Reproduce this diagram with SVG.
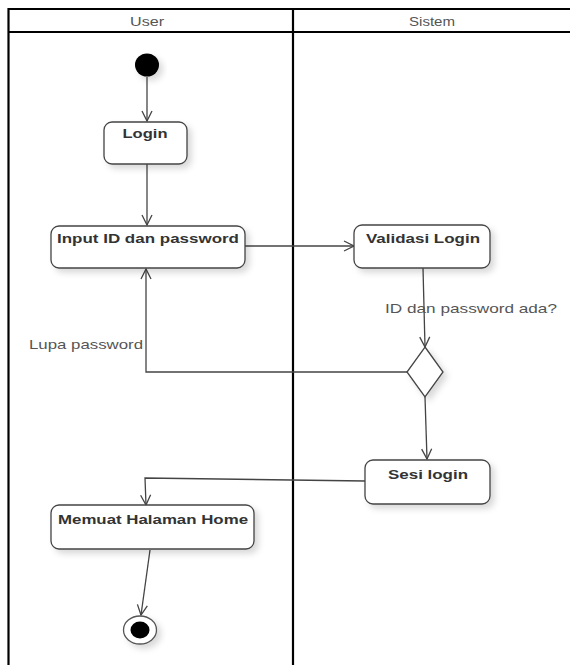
<svg xmlns="http://www.w3.org/2000/svg" width="570" height="665" viewBox="0 0 570 665">
  <style>
    .lane { stroke: #000; stroke-width: 2.2; fill: none; }
    .lane-title { font-family: "Liberation Sans", Arial, sans-serif; font-size: 13px; fill: #555; text-anchor: middle; }
    .action { fill: #fff; stroke: #444; stroke-width: 1.3; filter: url(#shadow); }
    .action-label { font-family: "Liberation Sans", Arial, sans-serif; font-size: 13.5px; font-weight: bold; fill: #333; text-anchor: middle; }
    .guard { font-family: "Liberation Sans", Arial, sans-serif; font-size: 13.5px; fill: #555; }
    .flow { stroke: #444; stroke-width: 1.3; fill: none; marker-end: url(#open-arrow); }
  </style>
  <defs>
    <marker id="open-arrow" viewBox="0 0 12 12" refX="11" refY="6" markerWidth="12" markerHeight="12" markerUnits="userSpaceOnUse" orient="auto">
      <path d="M1,1 L11,6 L1,11" fill="none" stroke="#444" stroke-width="1.3"/>
    </marker>
    <filter id="shadow" x="-20%" y="-20%" width="150%" height="160%">
      <feDropShadow dx="4" dy="4" stdDeviation="3" flood-color="#000" flood-opacity="0.15"/>
    </filter>
  </defs>

  <rect x="0" y="0" width="570" height="665" fill="#fff"/>

  <!-- swimlanes -->
  <g id="swimlanes">
    <line class="lane" x1="8" y1="9" x2="570" y2="9"/>
    <line class="lane" x1="8" y1="32" x2="570" y2="32"/>
    <line class="lane" x1="8.5" y1="8" x2="8.5" y2="665"/>
    <line class="lane" x1="293" y1="8" x2="293" y2="665"/>
    <text class="lane-title" x="147" y="26" textLength="34" lengthAdjust="spacingAndGlyphs">User</text>
    <text class="lane-title" x="432" y="26" textLength="46" lengthAdjust="spacingAndGlyphs">Sistem</text>
  </g>

  <!-- control flows -->
  <g id="connectors">
    <path class="flow" d="M147,77 L147,121"/>
    <path class="flow" d="M147,164 L147,225"/>
    <path class="flow" d="M245,246 L354,246"/>
    <path class="flow" d="M423,268 L425,347"/>
    <path class="flow" d="M407,372 L146,372 L146,269"/>
    <path class="flow" d="M425,397 L427,459"/>
    <path class="flow" d="M365,481 L145,478 L146,505"/>
    <path class="flow" d="M150,550 L141,615"/>
    <text class="guard" x="385" y="313" textLength="172" lengthAdjust="spacingAndGlyphs">ID dan password ada?</text>
    <text class="guard" x="29" y="349" textLength="114" lengthAdjust="spacingAndGlyphs">Lupa password</text>
  </g>

  <g id="start">
    <ellipse cx="147" cy="65" rx="12" ry="11.5" fill="#000" filter="url(#shadow)"/>
  </g>

  <g id="login">
    <rect class="action" x="104" y="122" width="83" height="42" rx="8"/>
    <text class="action-label" x="145" y="138" textLength="45" lengthAdjust="spacingAndGlyphs">Login</text>
  </g>

  <g id="input-id-password">
    <rect class="action" x="51" y="226" width="194" height="42" rx="8"/>
    <text class="action-label" x="148" y="243" textLength="182" lengthAdjust="spacingAndGlyphs">Input ID dan password</text>
  </g>

  <g id="validasi-login">
    <rect class="action" x="354" y="225" width="136" height="43" rx="8"/>
    <text class="action-label" x="423" y="243" textLength="114" lengthAdjust="spacingAndGlyphs">Validasi Login</text>
  </g>

  <g id="decision">
    <polygon class="action" points="425,347 443,372 425,397 407,372"/>
  </g>

  <g id="sesi-login">
    <rect class="action" x="365" y="460" width="125" height="44" rx="8"/>
    <text class="action-label" x="428" y="479" textLength="80" lengthAdjust="spacingAndGlyphs">Sesi login</text>
  </g>

  <g id="memuat-halaman-home">
    <rect class="action" x="51" y="505" width="203" height="44" rx="8"/>
    <text class="action-label" x="153" y="524" textLength="190" lengthAdjust="spacingAndGlyphs">Memuat Halaman Home</text>
  </g>

  <g id="end">
    <ellipse cx="140" cy="630" rx="16.5" ry="14" fill="#fff" stroke="#555" stroke-width="1.3" filter="url(#shadow)"/>
    <ellipse cx="140" cy="630" rx="9.5" ry="8.5" fill="#000"/>
  </g>
</svg>
